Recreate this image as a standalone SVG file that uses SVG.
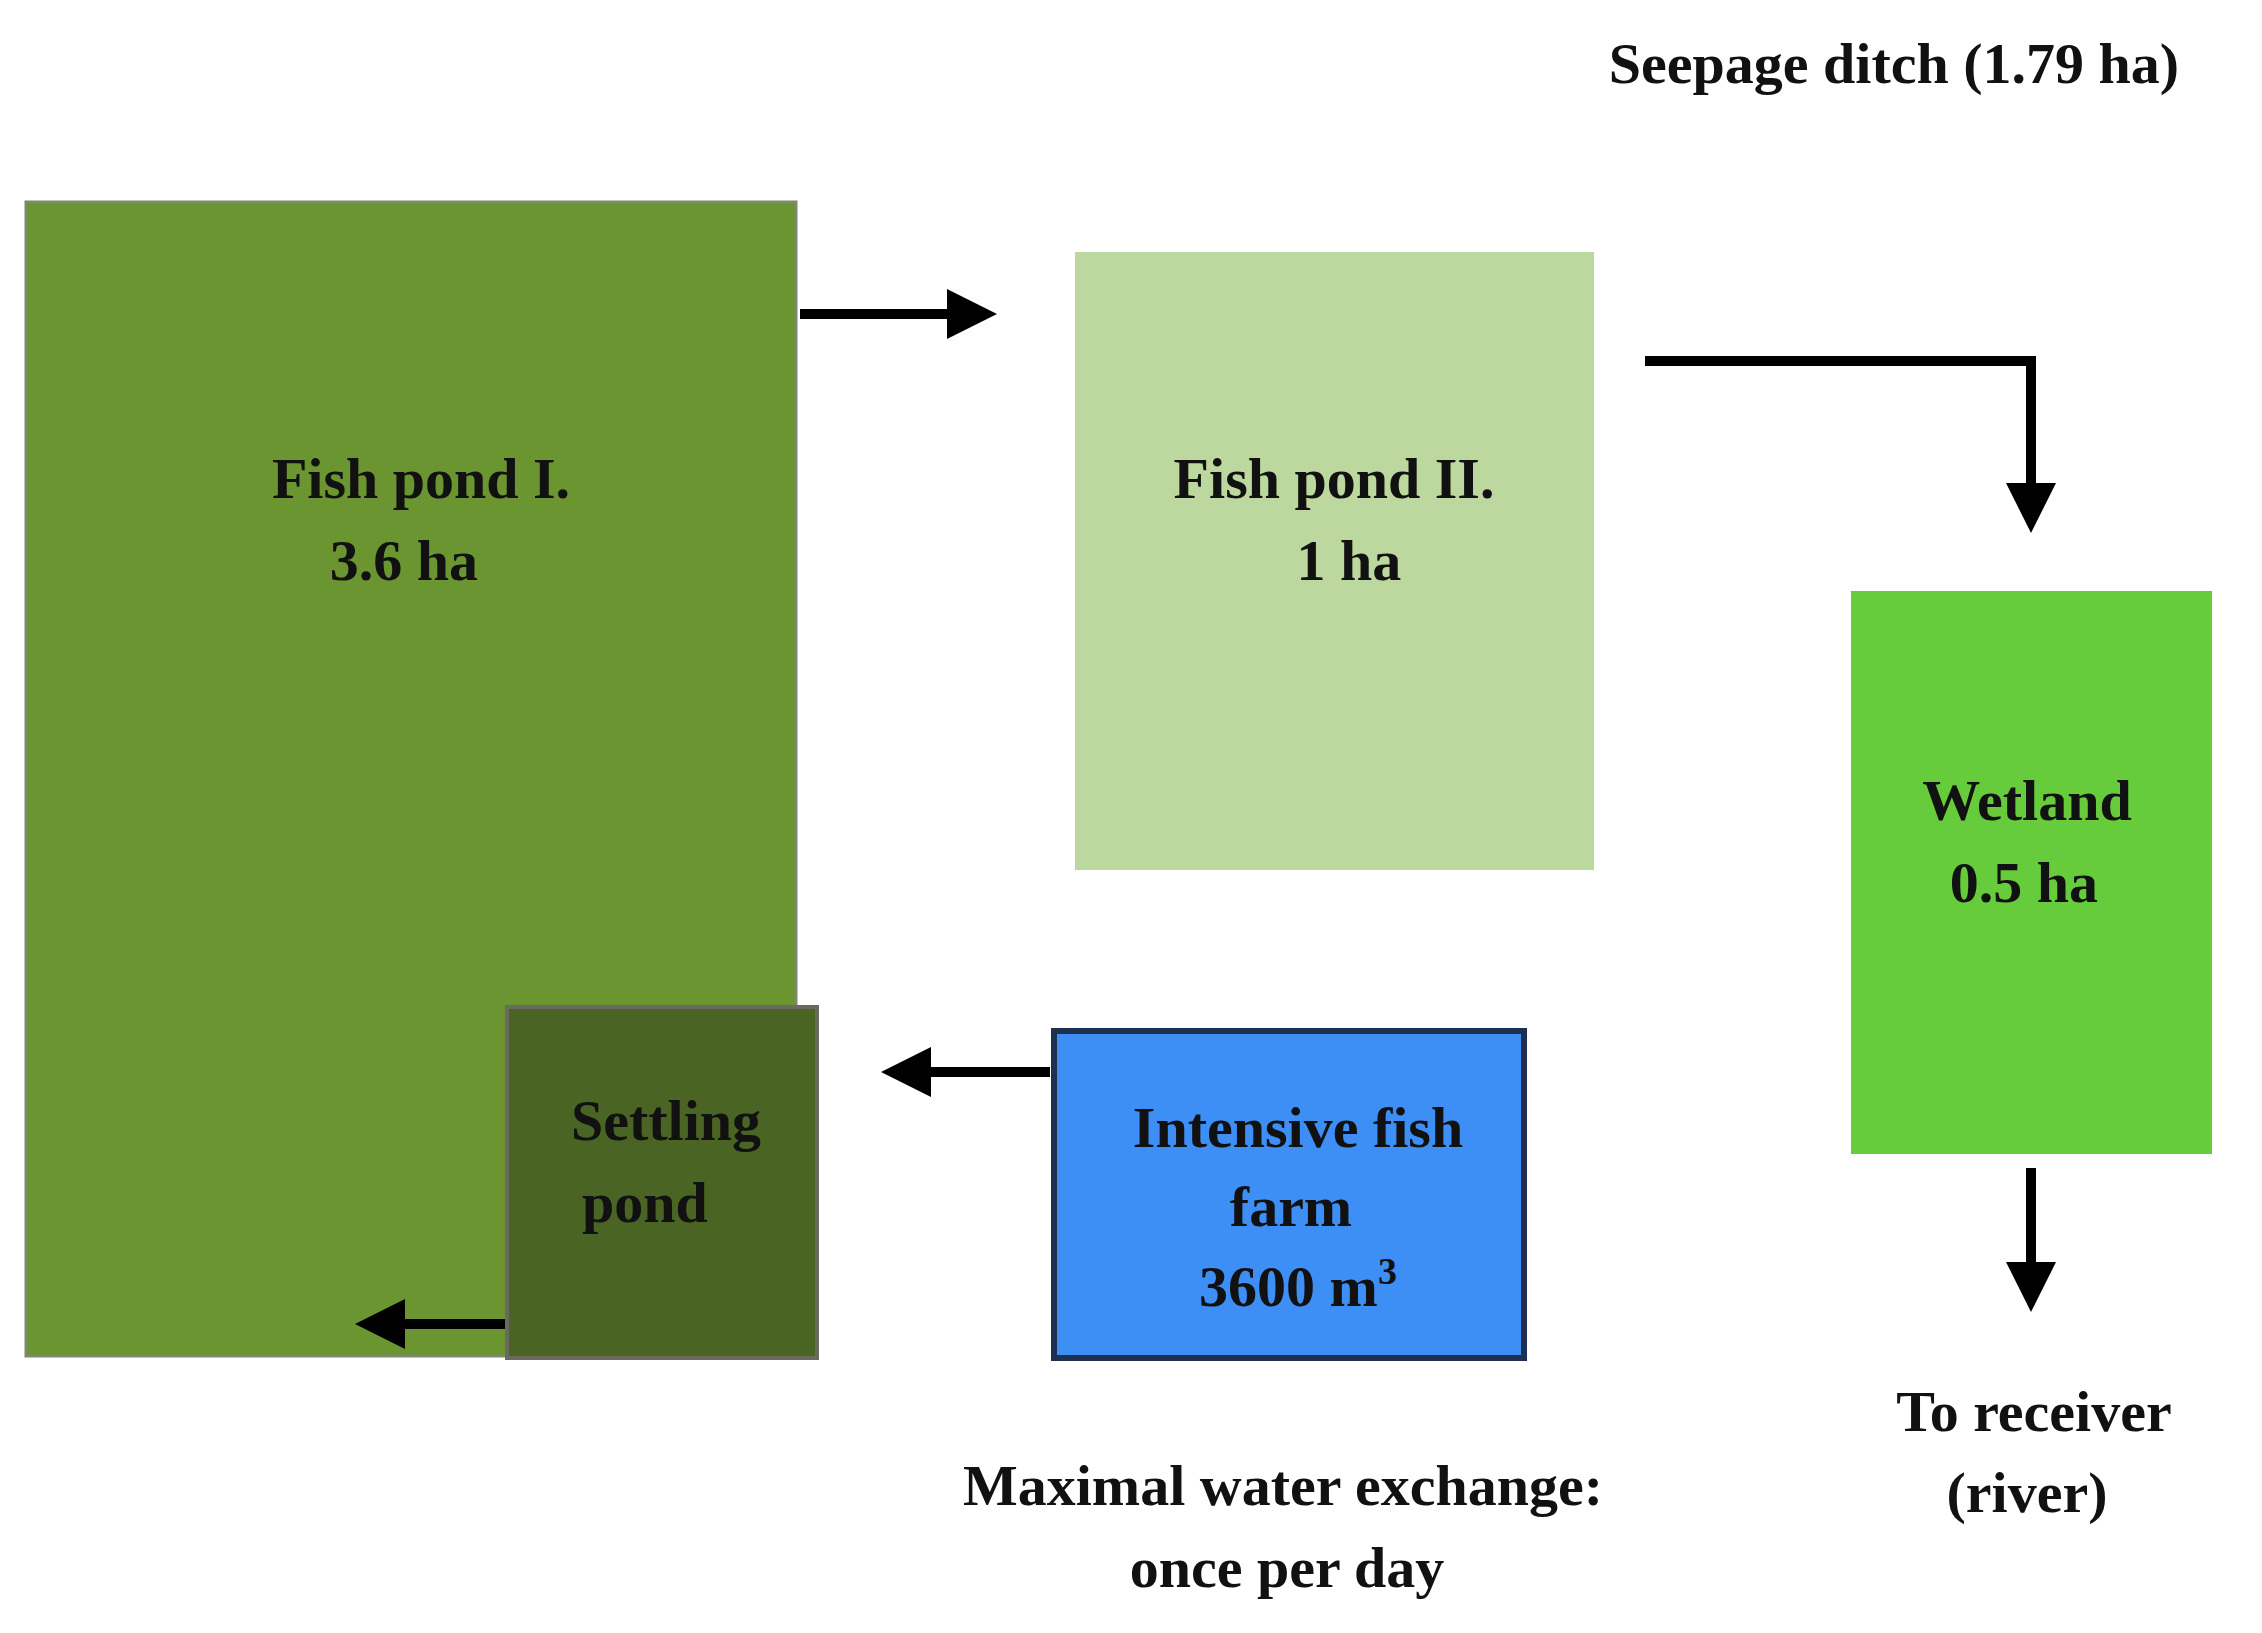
<svg xmlns="http://www.w3.org/2000/svg" width="2262" height="1633" viewBox="0 0 2262 1633">
<style>
text{font-family:"Liberation Serif","Times New Roman",serif;font-weight:bold;font-size:58px;fill:#111;text-anchor:middle}
.c{stroke:#000;stroke-width:10;fill:none}
</style>
<defs>
<marker id="a" markerWidth="5" markerHeight="5" refX="4" refY="2.5" orient="auto" markerUnits="strokeWidth"><path d="M0,0L5,2.5L0,5Z" fill="#000"/></marker>
</defs>
<rect width="2262" height="1633" fill="#fff"/>
<g id="pond1"><rect x="26" y="202" width="770" height="1154" fill="#6a9530" stroke="#7a8a6a" stroke-width="3"/><text x="421" y="498">Fish pond I.</text><text x="404" y="580">3.6 ha</text></g>
<g id="pond2"><rect x="1075" y="252" width="519" height="618" fill="#bdd89e"/><text x="1334" y="498">Fish pond II.</text><text x="1349" y="580">1 ha</text></g>
<g id="wetland"><rect x="1851" y="591" width="361" height="563" fill="#66cc3c"/><text x="2027" y="820">Wetland</text><text x="2024" y="902">0.5 ha</text></g>
<g id="settling"><rect x="507" y="1007" width="310" height="351" fill="#4a6423" stroke="#6a6a60" stroke-width="4"/><text x="666" y="1140">Settling</text><text x="645" y="1222">pond</text></g>
<g id="farm"><rect x="1054" y="1031" width="470" height="327" fill="#3d8ef5" stroke="#1e3050" stroke-width="6"/><text x="1298" y="1147">Intensive fish</text><text x="1291" y="1226">farm</text><text x="1298" y="1306">3600 m<tspan dy="-22" font-size="38">3</tspan></text></g>
<g id="labels"><text x="1894" y="83">Seepage ditch (1.79 ha)</text><text x="1283" y="1505">Maximal water exchange:</text><text x="1287" y="1587">once per day</text><text x="2034" y="1431">To receiver</text><text x="2027" y="1512">(river)</text></g>
<g id="connectors">
<path class="c" d="M800,314H987" marker-end="url(#a)"/>
<path class="c" d="M1645,361H2031V523" marker-end="url(#a)"/>
<path class="c" d="M1050,1072H891" marker-end="url(#a)"/>
<path class="c" d="M505,1324H365" marker-end="url(#a)"/>
<path class="c" d="M2031,1168V1302" marker-end="url(#a)"/>
</g>
</svg>
